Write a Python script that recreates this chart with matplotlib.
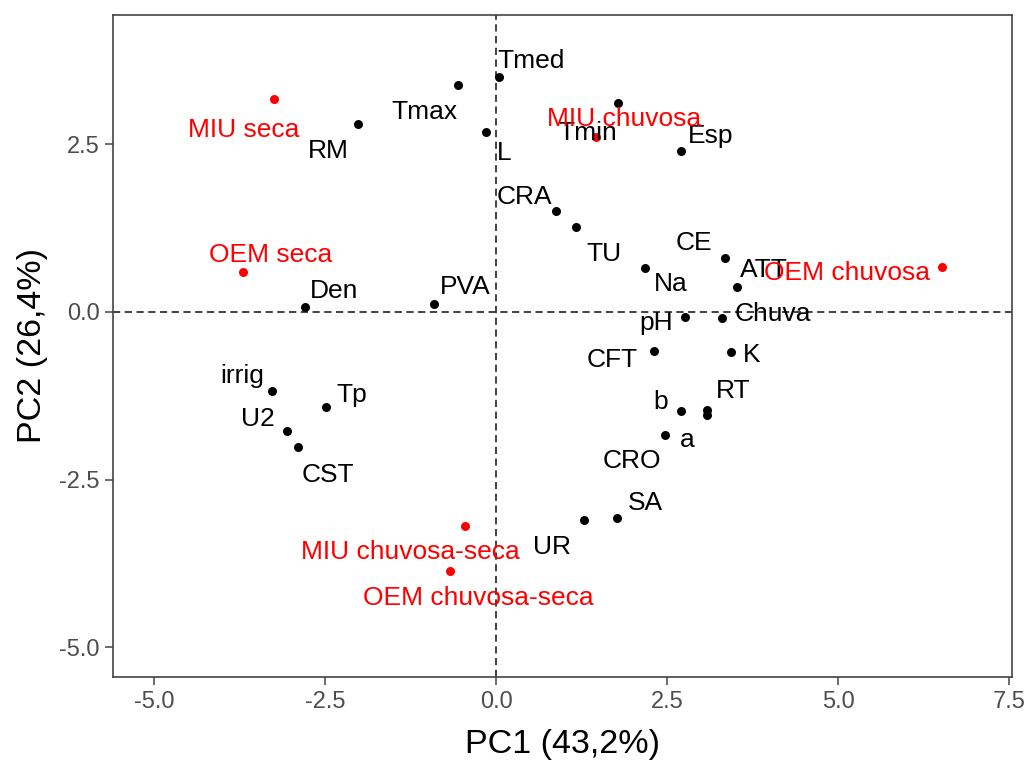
import matplotlib
matplotlib.use('Agg')
import matplotlib.pyplot as plt

plt.rcParams['font.family'] = ['Liberation Sans', 'DejaVu Sans']

# variable loadings on the first two components
var_names = ['Tmed', 'Tmax', 'RM', 'L', 'Tmin', 'Esp', 'CRA', 'TU', 'Na', 'CE',
             'ATT', 'Chuva', 'pH', 'K', 'CFT', 'b', 'RT', 'a', 'CRO', 'SA',
             'UR', 'Den', 'PVA', 'irrig', 'Tp', 'U2', 'CST']
var_pc1 = [0.05, -0.56, -2.02, -0.14, 1.78, 2.71, 0.88, 1.17, 2.18, 3.35,
           3.53, 3.31, 2.76, 3.43, 2.31, 2.71, 3.08, 3.08, 2.47, 1.77,
           1.28, -2.79, -0.91, -3.27, -2.48, -3.06, -2.90]
var_pc2 = [3.50, 3.38, 2.81, 2.68, 3.11, 2.40, 1.50, 1.27, 0.66, 0.80,
           0.38, -0.09, -0.08, -0.60, -0.58, -1.48, -1.46, -1.53, -1.83, -3.08,
           -3.10, 0.07, 0.12, -1.18, -1.42, -1.77, -2.02]

# site x season scores
grp_names = ['MIU seca', 'MIU chuvosa', 'OEM seca', 'OEM chuvosa',
             'MIU chuvosa-seca', 'OEM chuvosa-seca']
grp_pc1 = [-3.25, 1.46, -3.70, 6.52, -0.45, -0.67]
grp_pc2 = [3.17, 2.61, 0.59, 0.67, -3.19, -3.87]

# label nudges (pixels, right / up) from point to text centre
nudge = {
    'Tmed': (32, 19), 'Tmax': (-33, -24), 'RM': (-30, -25), 'L': (18, -18),
    'Tmin': (-30, -27), 'Esp': (29, 18), 'CRA': (-32, 17), 'TU': (28, -25),
    'Na': (26, -14), 'CE': (-31, 18), 'ATT': (26, 19), 'Chuva': (50, 6),
    'pH': (-29, -3), 'K': (21, 0), 'CFT': (-42, -7), 'b': (-21, 12),
    'RT': (27, 21), 'a': (-19, -23), 'CRO': (-33, -24), 'SA': (28, 18),
    'UR': (-32, -25), 'Den': (29, 19), 'PVA': (31, 19), 'irrig': (-30, 18),
    'Tp': (25, 15), 'U2': (-29, 14), 'CST': (30, -25),
    'MIU seca': (-30, -28), 'MIU chuvosa': (28, 20), 'OEM seca': (28, 20),
    'OEM chuvosa': (-95, -3), 'MIU chuvosa-seca': (-55, -24),
    'OEM chuvosa-seca': (28, -24),
}

LABEL_PT = 19
cap_px = 0.716 * LABEL_PT * 100 / 72


def add_labels(ax, names, xs, ys, color):
    for n, x, y in zip(names, xs, ys):
        dx, dy = nudge[n]
        ax.annotate(n, (x, y), xytext=(dx, dy - cap_px / 2),
                    textcoords='offset pixels', ha='center', va='baseline',
                    fontsize=LABEL_PT, color=color, zorder=4)


fig = plt.figure(figsize=(10.25, 7.6), dpi=100)
ax = fig.add_axes([113.3 / 1025, 1 - 676.7 / 760,
                   (1012.3 - 113.3) / 1025, (676.7 - 15) / 760])

ax.axhline(0, color='#333333', lw=1.3, ls=(0, (4, 2.5)), zorder=1)
ax.axvline(0, color='#333333', lw=1.3, ls=(0, (4, 2.5)), zorder=1)

ax.scatter(var_pc1, var_pc2, s=42, color='black', linewidths=0, zorder=3)
ax.scatter(grp_pc1, grp_pc2, s=42, color='#FF0000', linewidths=0, zorder=3)
add_labels(ax, var_names, var_pc1, var_pc2, 'black')
add_labels(ax, grp_names, grp_pc1, grp_pc2, '#FF0000')

ax.set_xlim(-5.595, 7.548)
ax.set_ylim(-5.44, 4.43)
ax.set_xticks([-5.0, -2.5, 0.0, 2.5, 5.0, 7.5])
ax.set_yticks([-5.0, -2.5, 0.0, 2.5])
ax.xaxis.set_major_formatter(matplotlib.ticker.FormatStrFormatter('%.1f'))
ax.yaxis.set_major_formatter(matplotlib.ticker.FormatStrFormatter('%.1f'))

for sp in ax.spines.values():
    sp.set_color('#444444')
    sp.set_linewidth(1.2)
ax.tick_params(length=6, width=1.1, color='#444444', labelcolor='#4D4D4D',
               labelsize=17, pad=4)

ax.set_xlabel('PC1 (43,2%)', fontsize=24.5, labelpad=12)
ax.set_ylabel('PC2 (26,4%)', fontsize=24.5, labelpad=8)

fig.savefig('out.png', dpi=100)
